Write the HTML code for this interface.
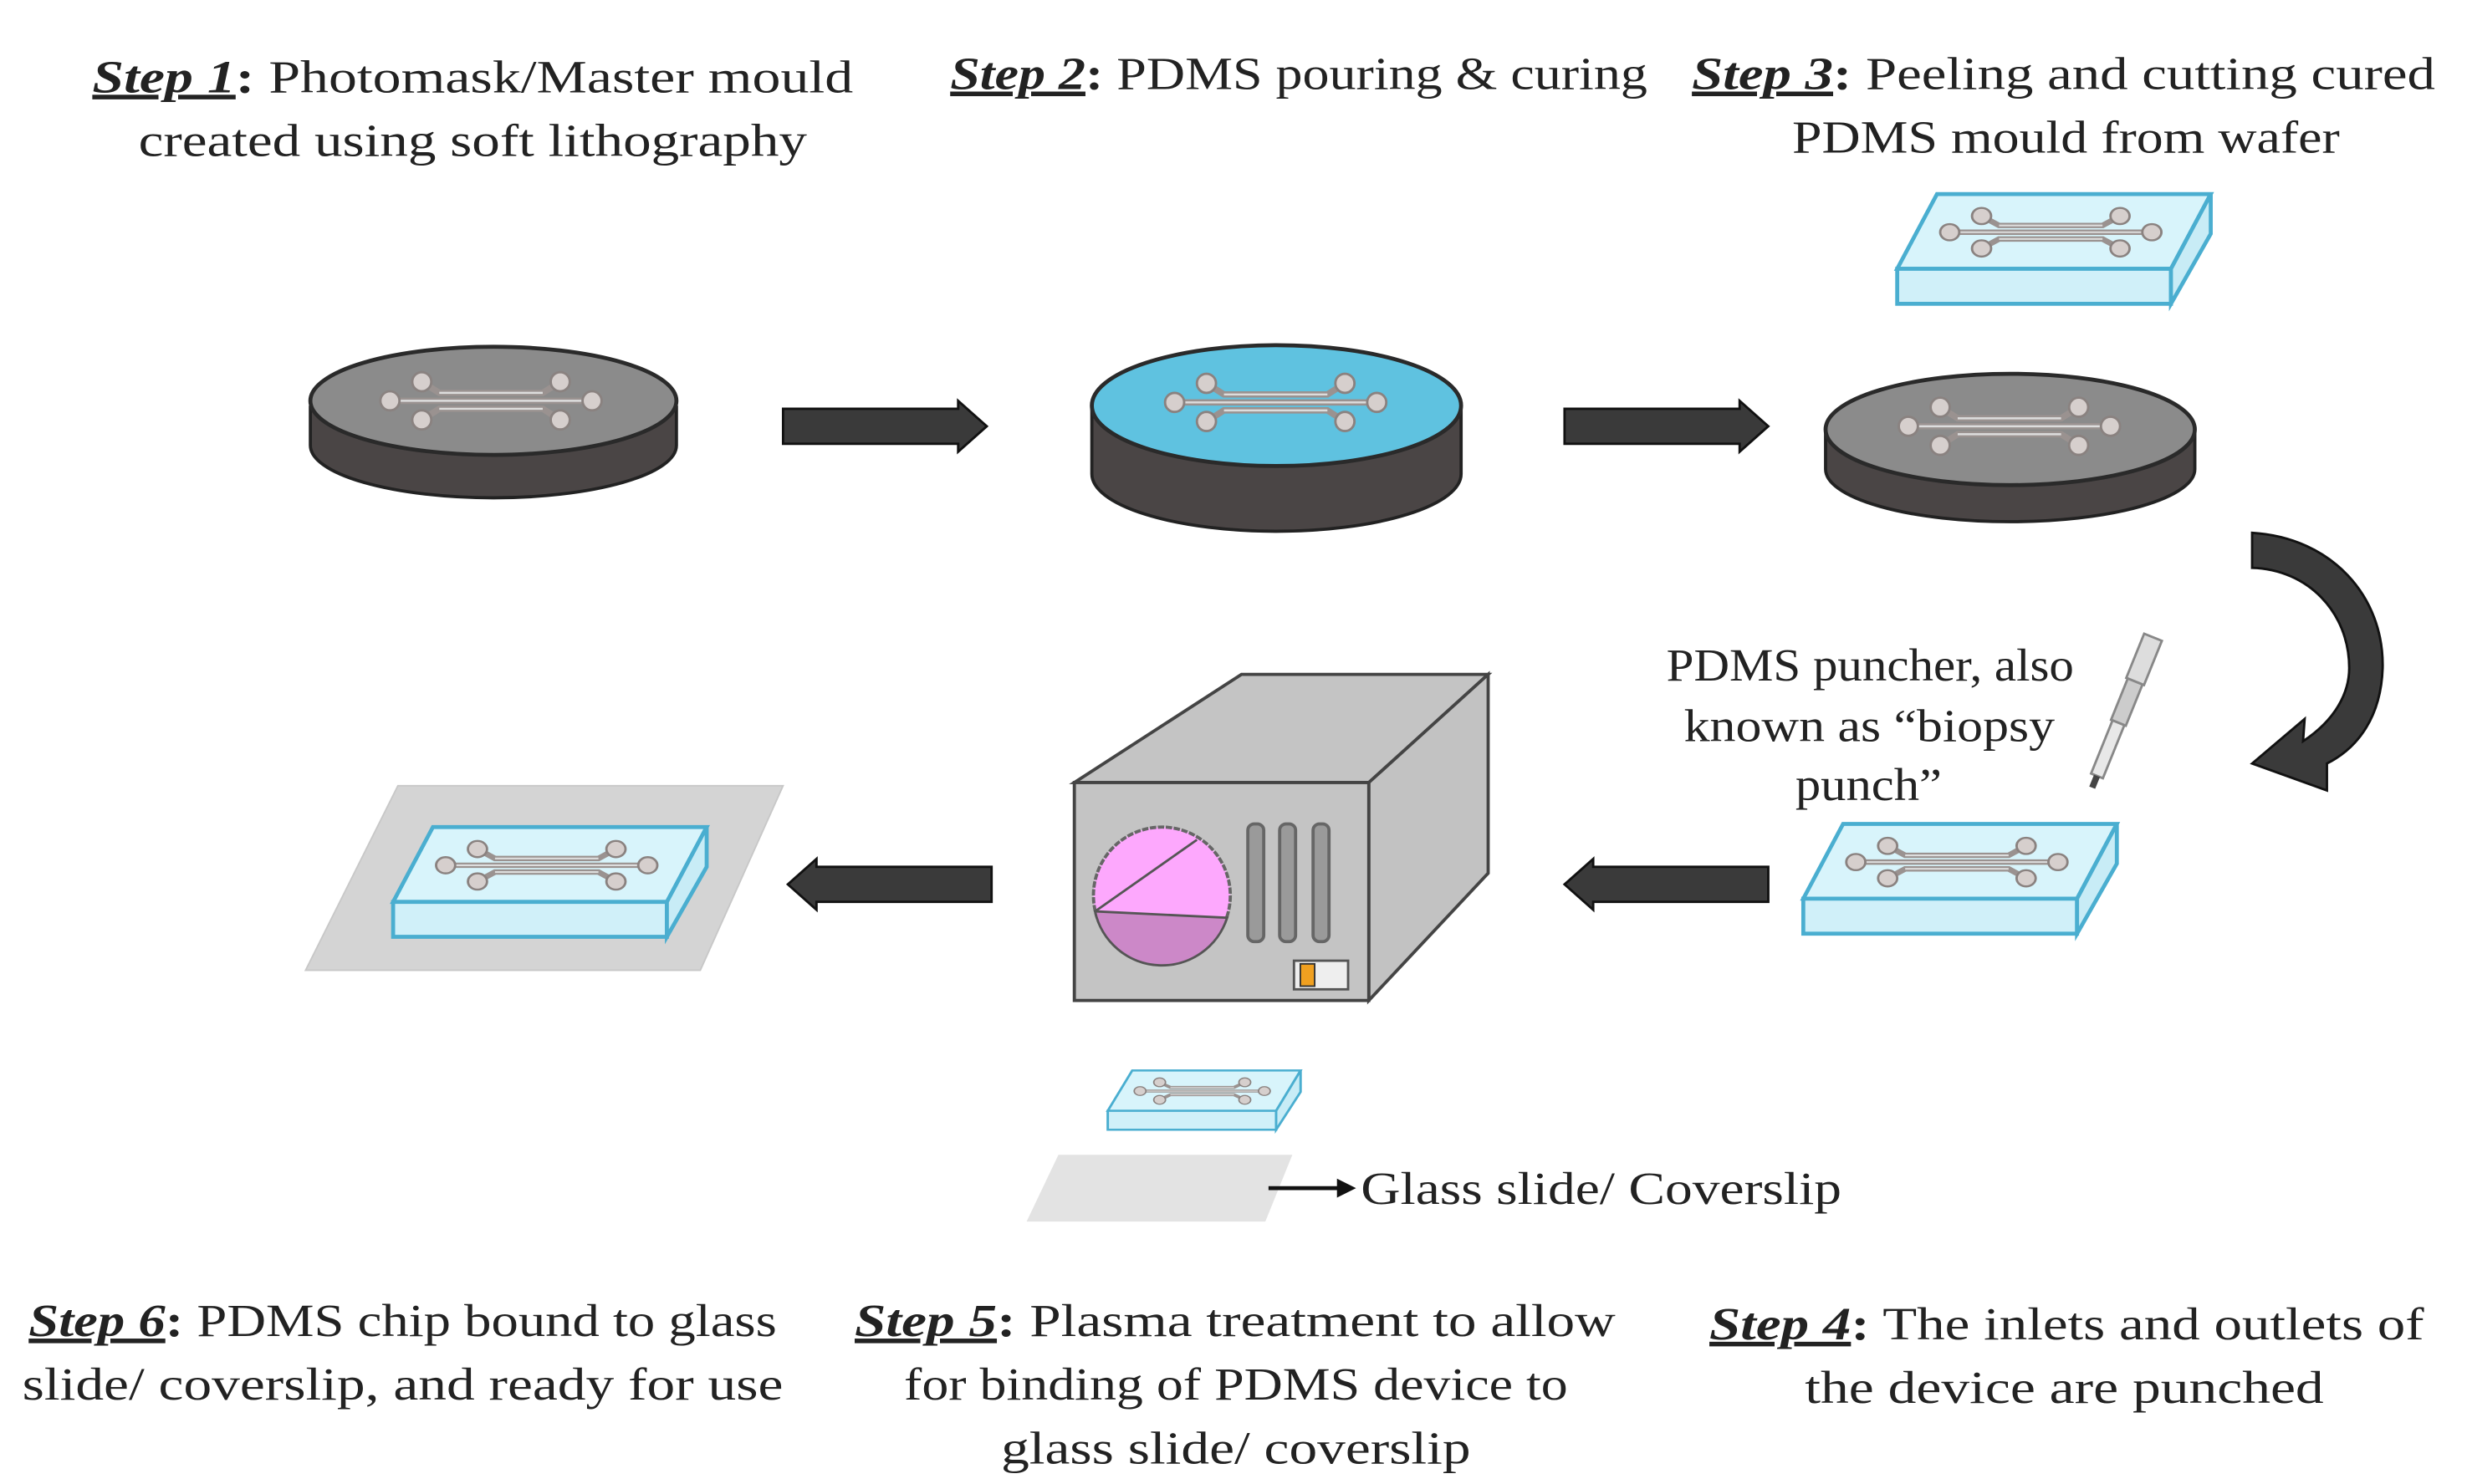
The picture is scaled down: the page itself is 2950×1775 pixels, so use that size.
<!DOCTYPE html>
<html><head><meta charset="utf-8"><style>
html,body{margin:0;padding:0;background:#fff;}
svg{display:block;}
text{font-family:"Liberation Serif",serif;fill:#222;}
</style></head><body>
<svg width="2950" height="1775" viewBox="0 0 1550 933" preserveAspectRatio="none" xmlns="http://www.w3.org/2000/svg">
<defs>
<g id="chip">
  <path d="M6,0 L127,0 M23,-12 L34,-5 L99,-5 L110,-12 M23,12 L34,5 L99,5 L110,12" fill="none" stroke="#9a9290" stroke-width="4"/>
  <path d="M6,0 L127,0 M34,-5 L99,-5 M34,5 L99,5" fill="none" stroke="#ddd" stroke-width="1.3"/>
  <g fill="#d6cfcd" stroke="#8a8280" stroke-width="1.5">
    <circle cx="3" cy="0" r="6"/><circle cx="23" cy="-12" r="6"/><circle cx="23" cy="12" r="6"/>
    <circle cx="110" cy="-12" r="6"/><circle cx="110" cy="12" r="6"/><circle cx="130" cy="0" r="6"/>
  </g>
</g>
<g id="block">
  <polygon points="25,0 197,0 172,47 0,47" fill="#d8f4fb" stroke="#4aaed0" stroke-width="2.5"/>
  <polygon points="0,47 172,47 172,69 0,69" fill="#d0f0f9" stroke="#4aaed0" stroke-width="2.5"/>
  <polygon points="197,0 197,25 172,69 172,47" fill="#c8ecf6" stroke="#4aaed0" stroke-width="2.5"/>
  <use href="#chip" transform="translate(30,24) scale(1,0.85)"/>
</g>
<g id="rarrow"><polygon points="0,-11 110,-11 110,-16 128,0 110,16 110,11 0,11" fill="#3a3a3a" stroke="#111" stroke-width="1.5"/></g>
</defs>

<!-- Titles -->
<text x="58" y="58" font-size="29" textLength="478" lengthAdjust="spacingAndGlyphs"><tspan font-weight="bold" font-style="italic" text-decoration="underline">Step 1</tspan><tspan font-weight="bold">:</tspan> Photomask/Master mould</text>
<text x="87" y="98" font-size="29" textLength="420" lengthAdjust="spacingAndGlyphs">created using soft lithography</text>
<text x="597" y="56" font-size="29" textLength="438" lengthAdjust="spacingAndGlyphs"><tspan font-weight="bold" font-style="italic" text-decoration="underline">Step 2</tspan><tspan font-weight="bold">:</tspan> PDMS pouring &amp; curing</text>
<text x="1063" y="56" font-size="29" textLength="467" lengthAdjust="spacingAndGlyphs"><tspan font-weight="bold" font-style="italic" text-decoration="underline">Step 3</tspan><tspan font-weight="bold">:</tspan> Peeling and cutting cured</text>
<text x="1126" y="96" font-size="29" textLength="344" lengthAdjust="spacingAndGlyphs">PDMS mould from wafer</text>

<!-- Disc 1 -->
<g>
  <path d="M195,256 L195,280 A115,33 0 0 0 425,280 L425,256 Z" fill="#4a4545" stroke="#222" stroke-width="2"/>
  <ellipse cx="310" cy="252" rx="115" ry="34" fill="#8b8b8b" stroke="#2a2a2a" stroke-width="2.5"/>
  <use href="#chip" transform="translate(242,252)"/>
</g>
<!-- Disc 2 -->
<g>
  <path d="M686,258 L686,298 A116,36 0 0 0 918,298 L918,258 Z" fill="#4a4545" stroke="#222" stroke-width="2"/>
  <ellipse cx="802" cy="255" rx="116" ry="38" fill="#5fc2e0" stroke="#2a2a2a" stroke-width="2.5"/>
  <use href="#chip" transform="translate(735,253)"/>
</g>
<!-- Disc 3 -->
<g>
  <path d="M1147,272 L1147,295 A116,33 0 0 0 1379,295 L1379,272 Z" fill="#4a4545" stroke="#222" stroke-width="2"/>
  <ellipse cx="1263" cy="270" rx="116" ry="35" fill="#8b8b8b" stroke="#2a2a2a" stroke-width="2.5"/>
  <use href="#chip" transform="translate(1196,268)"/>
</g>

<!-- top block -->
<use href="#block" transform="translate(1192,122)"/>

<!-- right arrows -->
<use href="#rarrow" transform="translate(492,268)"/>
<use href="#rarrow" transform="translate(983,268)"/>

<!-- curved arrow -->
<path d="M1415,335 C1465,338 1498,375 1497,420 C1496,450 1482,470 1462,480 L1462,497 L1415,480 L1448,452 L1447,466 C1468,452 1476,435 1476,420 C1476,385 1450,358 1415,357 Z" fill="#3a3a3a" stroke="#111" stroke-width="1.5"/>

<!-- puncher text -->
<text x="1047" y="428" font-size="29" textLength="256" lengthAdjust="spacingAndGlyphs">PDMS puncher, also</text>
<text x="1058" y="466" font-size="29" textLength="233" lengthAdjust="spacingAndGlyphs">known as “biopsy</text>
<text x="1128" y="503" font-size="29" textLength="92" lengthAdjust="spacingAndGlyphs">punch”</text>
<!-- puncher pen -->
<g transform="translate(1334,447) rotate(22)">
  <rect x="-6" y="-50" width="12" height="30" fill="#ddd" stroke="#888" stroke-width="1.5"/>
  <rect x="-5" y="-20" width="10" height="28" fill="#ccc" stroke="#888" stroke-width="1.5"/>
  <rect x="-4" y="8" width="8" height="36" fill="#e8e8e8" stroke="#888" stroke-width="1.5"/>
  <rect x="-2" y="44" width="4" height="8" fill="#444"/>
</g>

<!-- step4 block -->
<use href="#block" transform="translate(1133,518)"/>

<!-- left arrows -->
<use href="#rarrow" transform="translate(1111,556) scale(-1,1)"/>
<use href="#rarrow" transform="translate(623,556) scale(-1,1)"/>

<!-- plasma machine -->
<g stroke="#444" stroke-width="2">
  <polygon points="675,492 780,424 935,424 860,492" fill="#c4c4c4"/>
  <polygon points="860,492 935,424 935,549 860,629" fill="#c2c2c2"/>
  <rect x="675" y="492" width="185" height="137" fill="#c4c4c4"/>
  <circle cx="730" cy="563" r="43" fill="#fda8fd" stroke="#666" stroke-dasharray="4,1"/>
  <path d="M688,573 L771,577 A43,43 0 0 1 688,573 Z" fill="#cc88c8" stroke="#555" stroke-width="1.5"/>
  <line x1="688" y1="573" x2="752" y2="528" stroke="#555" stroke-width="1.5"/>
  <rect x="784" y="518" width="10" height="74" rx="4" fill="#9a9a9a" stroke="#666"/>
  <rect x="804" y="518" width="10" height="74" rx="4" fill="#9a9a9a" stroke="#666"/>
  <rect x="825" y="518" width="10" height="74" rx="4" fill="#9a9a9a" stroke="#666"/>
  <rect x="813" y="604" width="34" height="18" fill="#eee" stroke="#555" stroke-width="1.5"/>
  <rect x="817" y="606" width="9" height="14" fill="#f0a020" stroke="#333" stroke-width="1"/>
</g>

<!-- final -->
<polygon points="250,494 492,494 440,610 192,610" fill="#d4d4d4" stroke="#c8c8c8" stroke-width="1"/>
<use href="#block" transform="translate(247,520)"/>

<!-- small block & slide -->
<use href="#block" transform="translate(696,673) scale(0.615,0.54)"/>
<polygon points="665,726 812,726 795,768 645,768" fill="#e3e3e3"/>
<line x1="797" y1="747" x2="842" y2="747" stroke="#111" stroke-width="2.5"/>
<polygon points="840,741 852,747 840,753" fill="#111"/>
<text x="855" y="757" font-size="29" textLength="302" lengthAdjust="spacingAndGlyphs">Glass slide/ Coverslip</text>

<!-- bottom texts -->
<text x="18" y="840" font-size="29" textLength="470" lengthAdjust="spacingAndGlyphs"><tspan font-weight="bold" font-style="italic" text-decoration="underline">Step 6</tspan><tspan font-weight="bold">:</tspan> PDMS chip bound to glass</text>
<text x="14" y="880" font-size="29" textLength="478" lengthAdjust="spacingAndGlyphs">slide/ coverslip, and ready for use</text>
<text x="537" y="840" font-size="29" textLength="478" lengthAdjust="spacingAndGlyphs"><tspan font-weight="bold" font-style="italic" text-decoration="underline">Step 5</tspan><tspan font-weight="bold">:</tspan> Plasma treatment to allow</text>
<text x="568" y="880" font-size="29" textLength="417" lengthAdjust="spacingAndGlyphs">for binding of PDMS device to</text>
<text x="629" y="920" font-size="29" textLength="295" lengthAdjust="spacingAndGlyphs">glass slide/ coverslip</text>
<text x="1074" y="842" font-size="29" textLength="449" lengthAdjust="spacingAndGlyphs"><tspan font-weight="bold" font-style="italic" text-decoration="underline">Step 4</tspan><tspan font-weight="bold">:</tspan> The inlets and outlets of</text>
<text x="1134" y="882" font-size="29" textLength="326" lengthAdjust="spacingAndGlyphs">the device are punched</text>
</svg>
</body></html>
